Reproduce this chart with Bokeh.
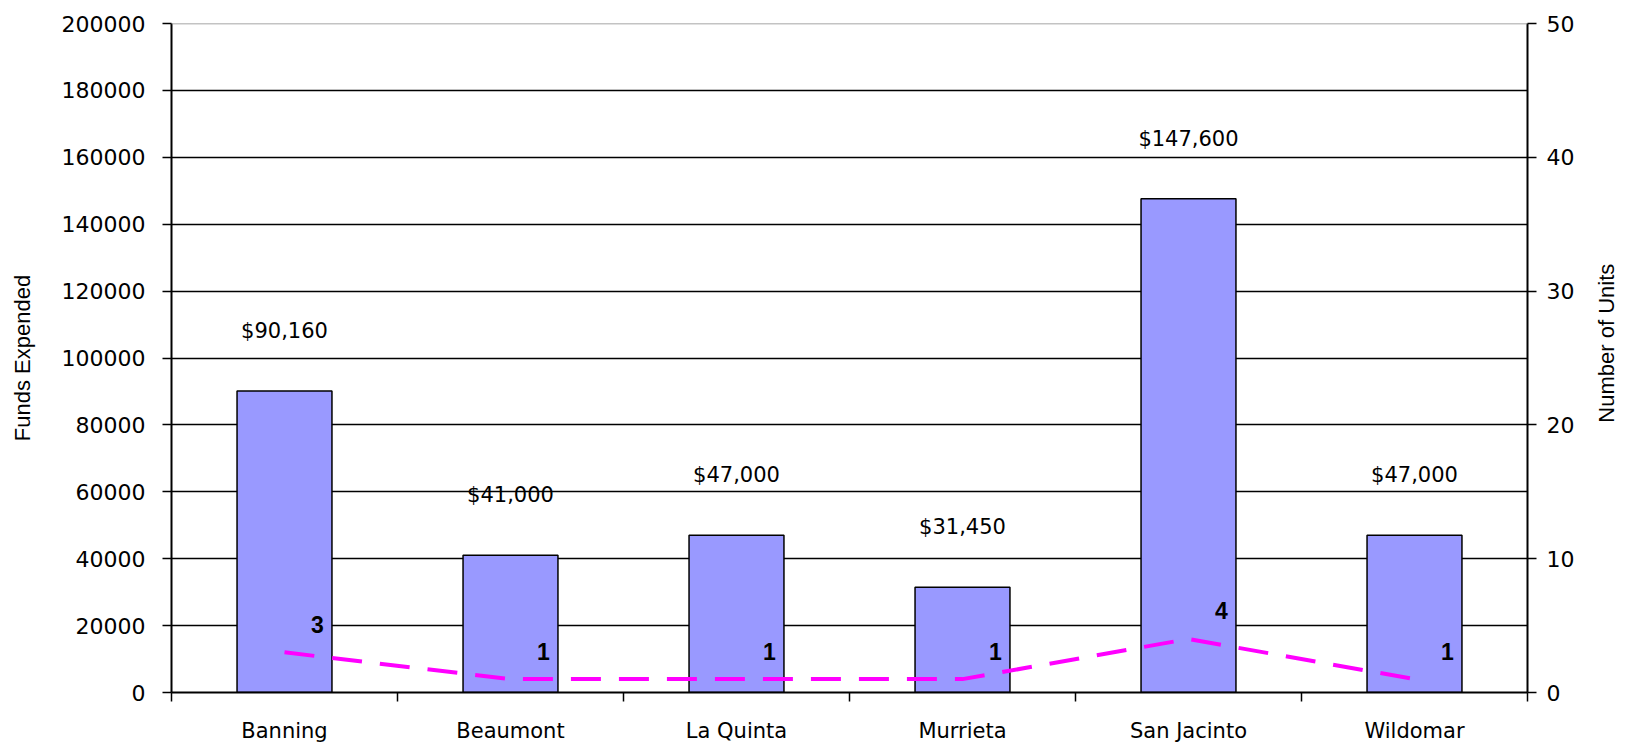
import math
from bokeh.plotting import figure
from bokeh.layouts import row
from bokeh.models import (Range1d, LinearAxis, FixedTicker, ColumnDataSource,
                          LabelSet, Span, NumeralTickFormatter)
from bokeh.core.properties import value
from bokeh.embed import file_html
from bokeh.resources import INLINE

cities = ["Banning", "Beaumont", "La Quinta", "Murrieta", "San Jacinto", "Wildomar"]
funds = [90160, 41000, 47000, 31450, 147600, 47000]
units = [3, 1, 1, 1, 4, 1]
fund_labels = ["$90,160", "$41,000", "$47,000", "$31,450", "$147,600", "$47,000"]
left_ticks = [0, 20000, 40000, 60000, 80000, 100000, 120000, 140000, 160000, 180000, 200000]
right_ticks = [0, 10, 20, 30, 40, 50]
left_title = "Funds Expended"
right_title = "Number of Units"

FONT = "DejaVu Sans"
TFONT = "Liberation Sans"
xs = [i + 0.5 for i in range(len(cities))]
src = ColumnDataSource(dict(x=xs, funds=funds, units=units, flabel=fund_labels,
                            ulabel=[str(u) for u in units]))

W, H = 1580, 745
p = figure(width=W, height=H, output_backend="svg", toolbar_location=None,
           x_range=Range1d(0, len(cities)), y_range=Range1d(0, 200000),
           min_border_left=171, min_border_right=W - 1527, min_border_top=23,
           min_border_bottom=H - 693)
p.extra_y_ranges = {"units": Range1d(0, 50)}
p.outline_line_color = None
p.background_fill_color = "white"
p.border_fill_color = "white"

# grid
p.xgrid.visible = False
p.ygrid.ticker = FixedTicker(ticks=left_ticks[:-1])
p.ygrid.grid_line_color = "black"
p.ygrid.grid_line_width = 1.5
p.add_layout(Span(location=200000, dimension="width", line_color="#888888", line_width=1.5))

# x axis
xa = p.xaxis[0]
xa.ticker = FixedTicker(ticks=xs, minor_ticks=list(range(len(cities) + 1)))
xa.major_label_overrides = {x: c for x, c in zip(xs, cities)}
xa.major_tick_line_color = None
xa.major_tick_in = 0
xa.major_tick_out = 6
xa.minor_tick_in = 0
xa.minor_tick_out = 9
xa.minor_tick_line_color = "black"
xa.minor_tick_line_width = 1.5
xa.axis_line_color = "black"
xa.axis_line_width = 2
xa.major_label_text_font = FONT
xa.major_label_text_font_size = "21px"
xa.major_label_text_color = "black"
xa.major_label_standoff = 17

# left axis
ya = p.yaxis[0]
ya.ticker = FixedTicker(ticks=left_ticks)
ya.formatter = NumeralTickFormatter(format="0")
ya.major_tick_in = 0
ya.major_tick_out = 9
ya.minor_tick_line_color = None
ya.major_tick_line_width = 1.5
ya.axis_line_width = 2
ya.axis_line_color = "black"
ya.major_label_text_font = FONT
ya.major_label_text_font_size = "22px"
ya.major_label_text_color = "black"
ya.major_label_standoff = 17
ya.axis_label = left_title
ya.axis_label_text_font = TFONT
ya.axis_label_text_font_size = "22px"
ya.axis_label_text_font_style = "normal"
ya.axis_label_text_color = "black"
ya.axis_label_standoff = 24

# right axis
ra = LinearAxis(y_range_name="units", ticker=FixedTicker(ticks=right_ticks))
ra.major_tick_in = 0
ra.major_tick_out = 9
ra.minor_tick_line_color = None
ra.major_tick_line_width = 1.5
ra.axis_line_width = 2
ra.axis_line_color = "black"
ra.major_label_text_font = FONT
ra.major_label_text_font_size = "22px"
ra.major_label_text_color = "black"
ra.major_label_standoff = 10
p.add_layout(ra, "right")

# bars
p.vbar(x="x", top="funds", width=0.42, source=src, fill_color="#9999FF",
       line_color="black", line_width=1.5)

# line
p.line(x="x", y="units", source=src, y_range_name="units", line_color="#FF00FF",
       line_width=4, line_dash="30 18")

p.add_layout(LabelSet(x="x", y="funds", text="flabel", source=src, y_offset=60,
                      text_align="center", text_baseline="middle", text_font=value(FONT),
                      text_font_size=value("21px"), text_color="black"))
p.add_layout(LabelSet(x="x", y="units", text="ulabel", source=src, y_range_name="units",
                      x_offset=33, y_offset=28, text_align="center", text_baseline="middle",
                      text_font=value(TFONT), text_font_size=value("23px"),
                      text_font_style="bold", text_color="black"))

# right-hand axis title (reads bottom-to-top) in a narrow companion panel
TW = 40
t = figure(width=TW, height=H, output_backend="svg", toolbar_location=None,
           x_range=Range1d(0, TW), y_range=Range1d(0, H), x_axis_type=None,
           y_axis_type=None, min_border=0)
t.outline_line_color = None
t.grid.visible = False
t.text(x=[26], y=[H - 356], text=[right_title], angle=math.pi / 2, text_align="center",
       text_baseline="middle", text_font=value(TFONT), text_font_size=value("22px"),
       text_color="black")

layout = row(p, t, spacing=0)
open("out.html", "w").write(file_html(layout, INLINE))
